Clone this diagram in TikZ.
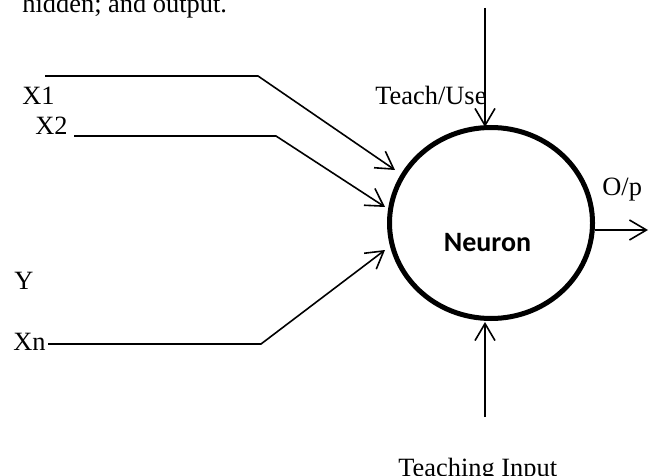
\documentclass[tikz,border=0pt]{standalone}
\usepackage{fontspec}
\setmainfont{Liberation Serif}
\newfontfamily\calibri{Carlito}
\usetikzlibrary{arrows.meta,shapes.geometric}
\begin{document}
\begin{tikzpicture}[x=0.5pt,y=-0.5pt,
  txt/.style={inner sep=0pt,anchor=base west,font=\fontsize{13.2pt}{15pt}\selectfont},
  wire/.style={line width=0.8pt,line join=miter},
  arr/.style={wire,-{Straight Barb[length=8.5pt,width=10pt,line width=0.8pt]}},
  neuronstyle/.style={ellipse,draw,line width=2.5pt,minimum width=101.5pt,minimum height=95.5pt,inner sep=0pt}]
\useasboundingbox (0,0) rectangle (651,475);
% neuron
\node[neuronstyle] (n) at (491,223) {};
\node[inner sep=0pt,font=\calibri\bfseries\fontsize{14pt}{16pt}\selectfont] (nl) at (487.5,243) {Neuron};
% labels
\node[txt] (hid) at (22,13) {hidden; and output.};
\node[txt] (x1) at (22,105) {X1};
\node[txt] (x2) at (35,135) {X2};
\node[txt] (y) at (14,289) {Y};
\node[txt] (xn) at (13,350) {Xn};
\node[txt] (tu) at (375,105) {Teach/Use};
\node[txt] (op) at (602,196) {O/p};
\node[txt] (ti) at (398,476) {Teaching Input};
% coordinates
\coordinate (a1) at (45,76);
\coordinate (b1) at (258,76);
\coordinate (t1) at (395,170);
\coordinate (a2) at (74,136);
\coordinate (b2) at (276,136);
\coordinate (t2) at (385,207);
\coordinate (an) at (48,344);
\coordinate (bn) at (261,344);
\coordinate (tn) at (385,250);
\coordinate (top) at (485,8);
\coordinate (toptip) at (485,127);
\coordinate (bot) at (485,417);
\coordinate (bottip) at (485,322);
\coordinate (outs) at (595,230);
\coordinate (oute) at (648,230);
% connectors
\draw[arr] (a1) -- (b1) -- (t1);
\draw[arr] (a2) -- (b2) -- (t2);
\draw[arr] (an) -- (bn) -- (tn);
\draw[arr] (top) -- (toptip);
\draw[arr] (bot) -- (bottip);
\draw[arr] (outs) -- (oute);
\end{tikzpicture}
\end{document}
